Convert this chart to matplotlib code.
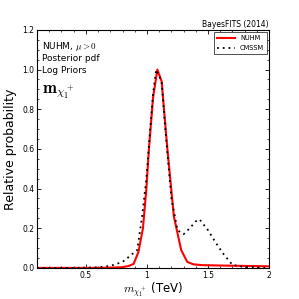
import numpy as np
import matplotlib
matplotlib.use("Agg")
import matplotlib.pyplot as plt

plt.rcParams['mathtext.fontset'] = 'cm'
plt.rcParams['font.family'] = 'DejaVu Sans'

# NUHM posterior (red)
nuhm_x = [0.1, 0.5, 0.7, 0.8, 0.85, 0.89, 0.93, 0.967, 0.995, 1.016, 1.05, 1.085,
          1.12, 1.167, 1.22, 1.28, 1.33, 1.38, 1.45, 1.6, 1.8, 2.0]
nuhm_y = [0.0, 0.0, 0.001, 0.004, 0.01, 0.02, 0.08, 0.2, 0.4, 0.6, 0.86, 1.0,
          0.94, 0.6, 0.26, 0.09, 0.03, 0.018, 0.014, 0.012, 0.01, 0.008]

# CMSSM posterior (black dotted)
cmssm_x = [0.1, 0.4, 0.6, 0.7, 0.8, 0.84, 0.92, 0.96, 0.995, 1.02, 1.05, 1.075,
           1.12, 1.15, 1.2, 1.25, 1.3, 1.35, 1.4, 1.43, 1.5, 1.55, 1.62, 1.7,
           1.8, 2.0]
cmssm_y = [0.0, 0.0, 0.003, 0.01, 0.03, 0.05, 0.09, 0.26, 0.45, 0.65, 0.88, 1.0,
           0.94, 0.7, 0.35, 0.19, 0.17, 0.2, 0.235, 0.245, 0.19, 0.14, 0.075,
           0.015, 0.004, 0.0]

fig = plt.figure(figsize=(2.99, 2.99), dpi=100)
ax = fig.add_axes([0.124, 0.104, 0.776, 0.796])

ax.plot(nuhm_x, nuhm_y, '-', color='red', linewidth=1.5, label='NUHM')
ax.plot(cmssm_x, cmssm_y, color='black', linewidth=1.3, dashes=(1, 2.2), label='CMSSM')

ax.set_xlim(0.1, 2.0)
ax.set_ylim(0, 1.2)
ax.set_xticks([0.5, 1, 1.5, 2])
ax.set_xticklabels(['0.5', '1', '1.5', '2'])
ax.set_yticks([0, 0.2, 0.4, 0.6, 0.8, 1.0, 1.2])
ax.set_xticks(np.arange(0.1, 2.0, 0.1), minor=True)
ax.set_yticks(np.arange(0, 1.2, 0.05), minor=True)
ax.tick_params(which='both', direction='in', top=True, right=True, labelsize=5.5, pad=2)
ax.tick_params(which='major', length=3, width=0.6)
ax.tick_params(which='minor', length=1.5, width=0.5)
for s in ax.spines.values():
    s.set_linewidth(0.8)

ax.set_ylabel('Relative probability', fontsize=9, labelpad=4)
ax.set_xlabel(r'$m_{\chi_1^+}$ (TeV)', fontsize=8.5, labelpad=1)
ax.set_title('BayesFITS (2014)', loc='right', fontsize=5.5, pad=2)

ax.text(0.02, 0.93, r'NUHM, $\mu>0$', transform=ax.transAxes, fontsize=6.5, va='center')
ax.text(0.02, 0.88, 'Posterior pdf', transform=ax.transAxes, fontsize=6.5, va='center')
ax.text(0.02, 0.83, 'Log Priors', transform=ax.transAxes, fontsize=6.5, va='center')
ax.text(0.02, 0.74, r'$\mathbf{m}_{\chi_1^+}$', transform=ax.transAxes, fontsize=12, va='center')

leg = ax.legend(loc='upper right', fontsize=4.8, frameon=True, fancybox=False,
                handlelength=2.6, borderpad=0.45, labelspacing=0.6,
                borderaxespad=0.3)
leg.get_frame().set_edgecolor('black')
leg.get_frame().set_linewidth(0.6)

fig.savefig('out.png', dpi=100)
